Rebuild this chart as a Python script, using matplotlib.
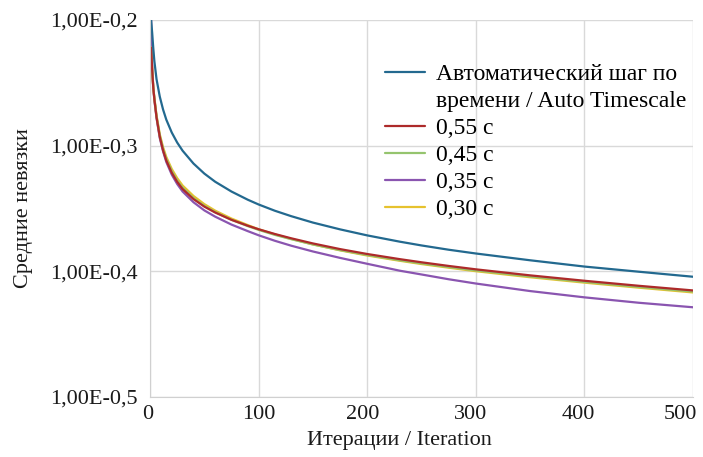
import numpy as np
import matplotlib
matplotlib.use("Agg")
import matplotlib.pyplot as plt
import matplotlib.transforms as mtransforms
from matplotlib.lines import Line2D

plt.rcParams['font.family'] = ['Liberation Serif', 'DejaVu Serif']

# ---------------------------------------------------------------
# Data (exponents of 10)
# ---------------------------------------------------------------
iterations = [1, 2, 3, 4, 6, 9, 12, 15, 20, 25, 30, 40, 50, 60, 75, 90,
              100, 115, 130, 150, 175, 200, 230, 250, 275, 300, 350, 400, 450, 500]

auto_exp = [-0.200, -0.2105, -0.2225, -0.2327, -0.2471, -0.2610, -0.2712, -0.2793, -0.2895, -0.2975,
            -0.3040, -0.3142, -0.3222, -0.3287, -0.3365, -0.3430, -0.3468, -0.3518, -0.3561, -0.3612,
            -0.3666, -0.3714, -0.3764, -0.3794, -0.3828, -0.3858, -0.3912, -0.3962, -0.4003, -0.4043]

s055_exp = [-0.222, -0.240, -0.254, -0.263, -0.2775, -0.293, -0.3037, -0.3118, -0.3215, -0.3288,
            -0.3345, -0.3425, -0.3485, -0.3532, -0.3590, -0.3637, -0.3665, -0.3703, -0.3737, -0.3778,
            -0.3823, -0.3862, -0.3903, -0.3928, -0.3957, -0.3984, -0.4032, -0.4075, -0.4115, -0.4152]

s045_exp = [-0.222, -0.240, -0.2535, -0.262, -0.2765, -0.292, -0.3025, -0.3105, -0.3202, -0.3276,
            -0.3334, -0.3417, -0.3479, -0.3529, -0.3590, -0.3640, -0.3670, -0.3710, -0.3744, -0.3786,
            -0.3831, -0.3870, -0.3912, -0.3937, -0.3966, -0.3993, -0.4041, -0.4084, -0.4124, -0.4161]

s035_exp = [-0.200, -0.238, -0.254, -0.2635, -0.278, -0.294, -0.3045, -0.313, -0.323, -0.3305,
            -0.3365, -0.3450, -0.3515, -0.3565, -0.3628, -0.3680, -0.3713, -0.3757, -0.3796, -0.3842,
            -0.3893, -0.3940, -0.3995, -0.4025, -0.4063, -0.4097, -0.4157, -0.4207, -0.4250, -0.4286]

s030_exp = [-0.222, -0.240, -0.2535, -0.262, -0.276, -0.291, -0.3012, -0.309, -0.3185, -0.3258,
            -0.3317, -0.3400, -0.3465, -0.3517, -0.3580, -0.3632, -0.3665, -0.3706, -0.3742, -0.3786,
            -0.3833, -0.3874, -0.3916, -0.3942, -0.3971, -0.3999, -0.4047, -0.4090, -0.4130, -0.4168]

y_tick_exp = [-0.5, -0.4, -0.3, -0.2]
y_tick_labels = ["1,00E-0,5", "1,00E-0,4", "1,00E-0,3", "1,00E-0,2"]
x_ticks = [0, 100, 200, 300, 400, 500]

series = [
    ("0,35 с", s035_exp, "#8a55b0"),
    ("0,30 с", s030_exp, "#e6c22e"),
    ("0,45 с", s045_exp, "#95c46e"),
    ("0,55 с", s055_exp, "#ad2a2a"),
    ("auto", auto_exp, "#23698f"),
]

# ---------------------------------------------------------------
# Plot
# ---------------------------------------------------------------
fig = plt.figure(figsize=(7.03, 4.57), dpi=100)
ax = fig.add_axes([0.2134, 0.1313, 0.7724, 0.8249])

x = np.array(iterations)
lines = {}
for name, vals, col in series:
    ln, = ax.plot(x, 10 ** np.array(vals), color=col, lw=1.6, solid_capstyle='round')
    lines[name] = ln

ax.set_yscale('log')
ax.set_xlim(0, 500)
ax.set_ylim(10 ** -0.5, 10 ** -0.2)
ax.yaxis.set_major_locator(matplotlib.ticker.FixedLocator([10 ** e for e in y_tick_exp]))
ax.yaxis.set_minor_locator(matplotlib.ticker.NullLocator())
ax.set_yticklabels(y_tick_labels)
ax.set_xticks(x_ticks)

ax.grid(True, color="#d9d9d9", lw=1.0)
ax.set_axisbelow(True)
for s in ['top', 'right']:
    ax.spines[s].set_visible(False)
for s in ['left', 'bottom']:
    ax.spines[s].set_color("#d0d0d0")
ax.tick_params(axis='both', length=0, labelsize=16, colors='#1a1a1a')
ax.tick_params(axis='y', pad=9)
ax.tick_params(axis='x', pad=6)

# x tick labels sit a little left of their ticks, the last one more so
x_shift = [-2, 0, -5, -5, -6, -13]
for lab, dx in zip(ax.get_xticklabels(), x_shift):
    lab.set_transform(lab.get_transform() +
                      mtransforms.ScaledTranslation(dx / 100, 0, fig.dpi_scale_trans))

ax.set_xlabel("Итерации / Iteration", fontsize=16, labelpad=5, color='#1a1a1a', x=0.459)
ax.set_ylabel("Средние невязки", fontsize=16, labelpad=12, color='#1a1a1a')

# Legend: first label spans two lines, handle sits on the first line
blank = Line2D([], [], color='none')
handles = [lines["auto"], blank, lines["0,55 с"], lines["0,45 с"], lines["0,35 с"], lines["0,30 с"]]
labels = ["Автоматический шаг по", "времени / Auto Timescale",
          "0,55 с", "0,45 с", "0,35 с", "0,30 с"]
ax.legend(handles, labels, loc='upper left', bbox_to_anchor=(0.547, 0.861),
          bbox_transform=fig.transFigure, frameon=False, fontsize=17,
          handlelength=1.7, handletextpad=0.5, labelspacing=0.23,
          borderpad=0, borderaxespad=0)

fig.savefig("out.png", dpi=100)
